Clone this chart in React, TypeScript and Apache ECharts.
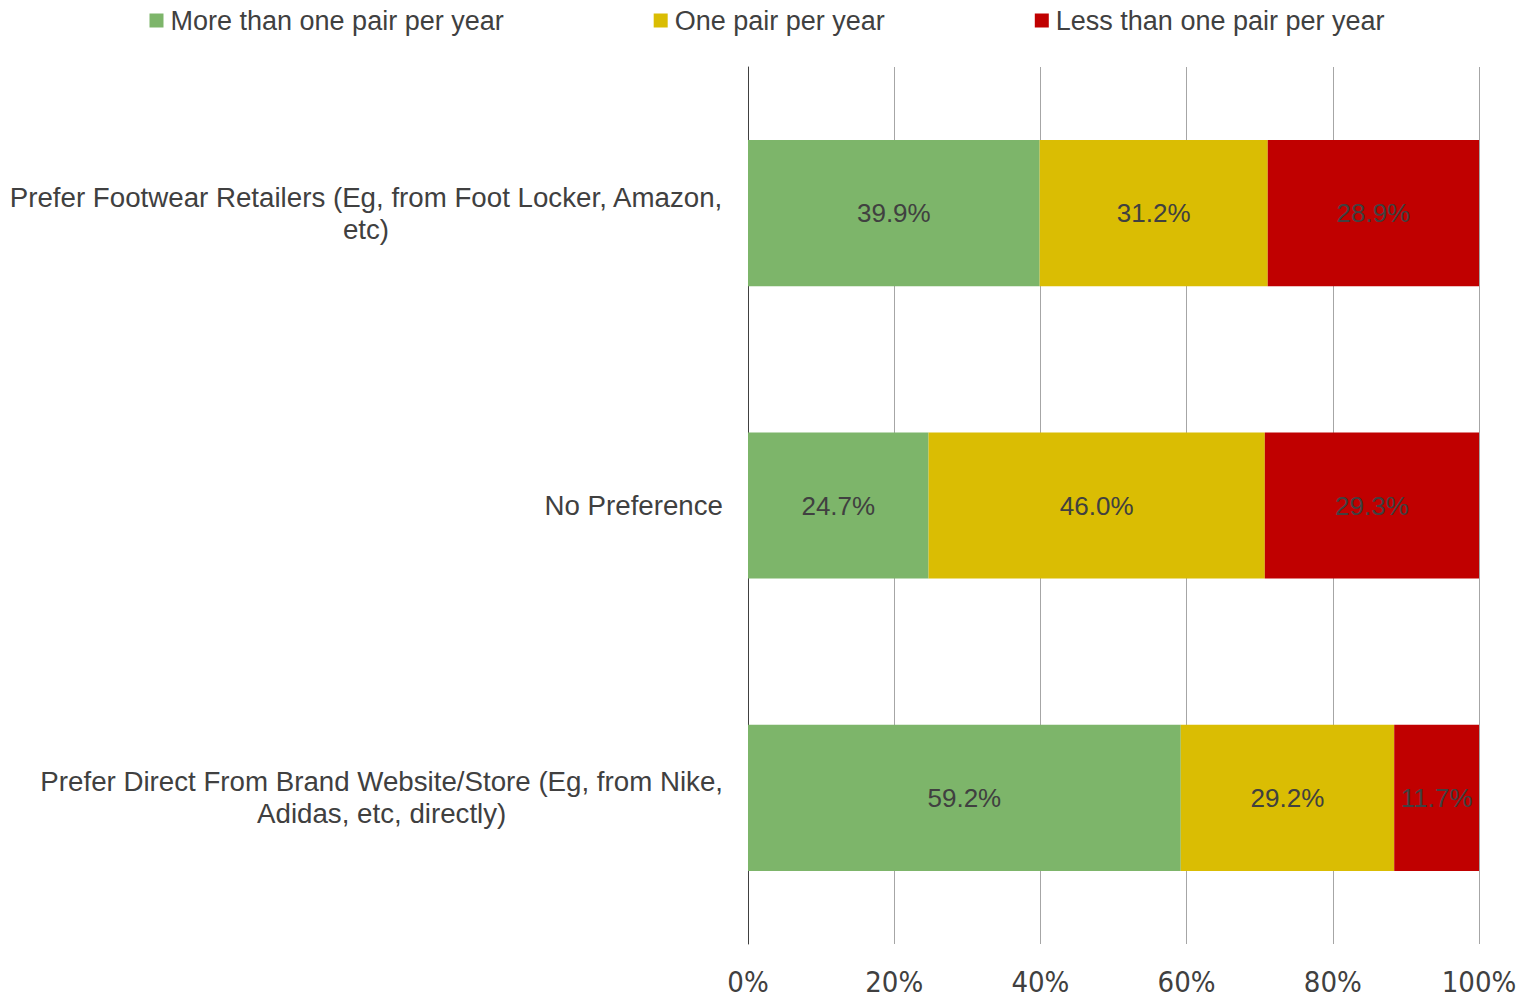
import React, { useEffect, useRef } from "react";
import * as echarts from "echarts";

const categories = [
  "Prefer Footwear Retailers (Eg, from Foot Locker, Amazon,\netc)",
  "No Preference",
  "Prefer Direct From Brand Website/Store (Eg, from Nike,\nAdidas, etc, directly)",
];
const seriesNames = ["More than one pair per year", "One pair per year", "Less than one pair per year"];
const moreThanOne = [39.9, 24.7, 59.2];
const onePair = [31.2, 46.0, 29.2];
const lessThanOne = [28.9, 29.3, 11.7];
const xTicks = [0, 20, 40, 60, 80, 100];

const colors = ["#7DB56A", "#DABD03", "#C00000"];
const textColor = "#404040";
const font = "Arial, 'Liberation Sans', sans-serif";

export default function App() {
  const ref = useRef<HTMLDivElement>(null);
  useEffect(() => {
    if (!ref.current) return;
    const chart = echarts.init(ref.current, undefined, { renderer: "svg" });
    const values = [moreThanOne, onePair, lessThanOne];
    chart.setOption({
      animation: false,
      textStyle: { fontFamily: font },
      legend: {
        top: 2,
        left: "center",
        itemWidth: 14,
        itemHeight: 14,
        itemGap: 150,
        icon: "rect",
        textStyle: { color: textColor, fontSize: 27, fontFamily: font, padding: [0, 0, 0, 2] },
        data: seriesNames,
      },
      grid: { left: 748, right: 55, top: 67, bottom: 53, containLabel: false },
      xAxis: {
        type: "value",
        min: xTicks[0],
        max: xTicks[xTicks.length - 1],
        interval: 20,
        axisLine: { show: false },
        axisTick: { show: false },
        splitLine: { show: true, lineStyle: { color: "#A6A6A6", width: 1 } },
        axisLabel: {
          color: textColor,
          fontSize: 29,
          margin: 23,
          fontFamily: "'Liberation Sans Narrow', 'Arial Narrow', 'DejaVu Sans Condensed', sans-serif",
          formatter: (v: number) => v + "%",
        },
      },
      yAxis: {
        type: "category",
        inverse: true,
        data: categories,
        axisLine: { show: true, lineStyle: { color: "#404040", width: 1 } },
        axisTick: { show: false },
        axisLabel: {
          color: textColor,
          fontSize: 27.7,
          margin: 25,
          lineHeight: 32,
          formatter: (v: string) =>
            v
              .split("\n")
              .map((l) => "{c|" + l + "}")
              .join("\n"),
          rich: { c: { align: "center", fontSize: 27.7, color: textColor, lineHeight: 32, fontFamily: font } },
        },
      },
      series: seriesNames.map((name, i) => ({
        name,
        type: "bar",
        stack: "total",
        barWidth: "50%",
        data: values[i],
        itemStyle: { color: colors[i] },
        label: {
          show: true,
          position: "inside",
          color: textColor,
          fontSize: 26,
          fontFamily: font,
          formatter: (p: any) => Number(p.value).toFixed(1) + "%",
        },
      })),
    });
    return () => chart.dispose();
  }, []);
  return (
    <div
      ref={ref}
      style={{ position: "absolute", left: 0, top: 0, width: 1534, height: 997, background: "#fff" }}
    />
  );
}
